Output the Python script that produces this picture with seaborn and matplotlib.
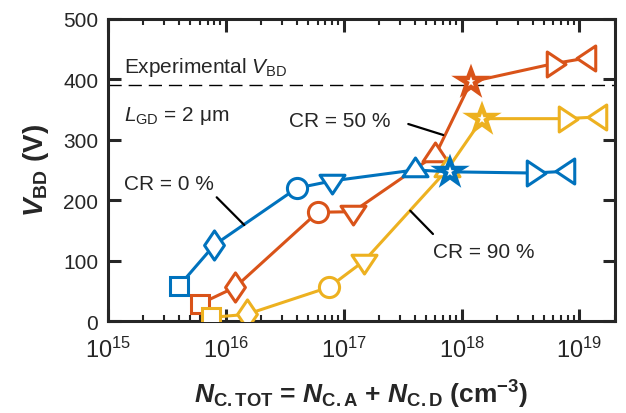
import matplotlib
matplotlib.use('Agg')
import matplotlib.pyplot as plt
from matplotlib.path import Path
from matplotlib.markers import MarkerStyle
from matplotlib.ticker import NullFormatter
import seaborn as sns

# Breakdown voltage vs total carbon concentration for three compensation ratios
n_cr0 = [4e15, 8e15, 4e16, 8e16, 4e17, 8e17, 4e18, 8e18]
v_cr0 = [58, 126, 220, 232, 250, 247, 245, 248]

n_cr50 = [6e15, 1.2e16, 6e16, 1.2e17, 6e17, 1.2e18, 6e18, 1.2e19]
v_cr50 = [28, 56, 180, 181, 275, 396, 426, 436]

n_cr90 = [7.5e15, 1.5e16, 7.5e16, 1.5e17, 7.5e17, 1.5e18, 7.5e18, 1.5e19]
v_cr90 = [6, 11, 56, 100, 250, 335, 335, 338]

v_experimental = 390
series_labels = ['CR = 0 %', 'CR = 50 %', 'CR = 90 %']
y_ticks = [0, 100, 200, 300, 400, 500]

blue = '#0072BD'
orange = '#D95319'
yellow = '#EDB120'

sns.set_style('ticks')
plt.rcParams['font.family'] = ['Liberation Sans', 'DejaVu Sans']
plt.rcParams['mathtext.fontset'] = 'custom'
plt.rcParams['mathtext.rm'] = 'Liberation Sans'
plt.rcParams['mathtext.it'] = 'Liberation Sans:italic'
plt.rcParams['mathtext.bf'] = 'Liberation Sans:bold'
plt.rcParams['mathtext.bfit'] = 'Liberation Sans:italic:bold'


def shape(verts):
    # closed polygon marker, centred on its centroid like MATLAB does
    return MarkerStyle(Path(verts + [verts[0]], closed=True), joinstyle='miter')


markers = [
    MarkerStyle('s', joinstyle='miter'),
    shape([(0, 1), (0.68, 0), (0, -1), (-0.68, 0)]),
    MarkerStyle('o'),
    shape([(-1, 0.5), (1, 0.5), (0, -1)]),
    shape([(-1, -0.5), (1, -0.5), (0, 1)]),
    MarkerStyle('*', joinstyle='miter'),
    shape([(-0.5, -1), (-0.5, 1), (1, 0)]),
    shape([(0.5, -1), (0.5, 1), (-1, 0)]),
]
marker_sizes = [12.5, 21, 14.5, 18, 18, 17.5, 18, 18]
edge_widths = [2.2, 2.2, 2.2, 2.2, 2.2, 3.2, 2.2, 2.2]

fig, ax = plt.subplots(figsize=(6.26, 4.14), dpi=100)
fig.subplots_adjust(left=0.1725, right=0.9824, bottom=0.2222, top=0.9517)
ax.set_xscale('log')

ax.axhline(v_experimental, color='black', lw=1, dashes=(9.5, 5), zorder=1)

series = [(n_cr50, v_cr50, orange, 2), (n_cr90, v_cr90, yellow, 3), (n_cr0, v_cr0, blue, 4)]
for n, v, col, z in series:
    sns.lineplot(x=n, y=v, ax=ax, color=col, lw=2.2, estimator=None, sort=False, zorder=z)
    for xi, yi, m, s, w in zip(n, v, markers, marker_sizes, edge_widths):
        ax.plot(xi, yi, ls='none', marker=m, ms=s, mfc='white', mec=col, mew=w, zorder=z)

ax.set_xlim(1e15, 2e19)
ax.set_ylim(0, 500)
ax.set_yticks(y_ticks)
ax.xaxis.set_minor_formatter(NullFormatter())

ax.tick_params(which='major', direction='in', length=9, width=2.2, top=True, right=True,
               labelsize=15, pad=7, color='#262626', labelcolor='#262626')
ax.tick_params(axis='x', which='major', labelsize=17, pad=11)
ax.tick_params(which='minor', direction='in', length=4.5, width=1.5, top=True, right=True,
               color='#262626')
for s in ax.spines.values():
    s.set_linewidth(2.2)
    s.set_color('#262626')

ax.set_xlabel(r'$\mathbfit{N}_{\mathbf{C.TOT}}$ = $\mathbfit{N}_{\mathbf{C.A}}$ + '
              r'$\mathbfit{N}_{\mathbf{C.D}}$ (cm$^{\mathbf{-3}}$)',
              fontsize=19, fontweight='bold', labelpad=12)
ax.set_ylabel(r'$\mathbfit{V}_{\mathbf{BD}}$ (V)', fontsize=20, fontweight='bold', labelpad=9)

# annotations
ax.text(0.031, 0.823, r'Experimental $V_{\mathrm{BD}}$', transform=ax.transAxes, fontsize=15)
ax.text(0.031, 0.664, r'$L_{\mathrm{GD}}$ = 2 μm', transform=ax.transAxes, fontsize=15)
ax.text(0.031, 0.437, series_labels[0], transform=ax.transAxes, fontsize=15)
ax.text(0.358, 0.647, series_labels[1], transform=ax.transAxes, fontsize=15)
ax.text(0.642, 0.211, series_labels[2], transform=ax.transAxes, fontsize=15)

ax.plot([0.2144, 0.2688], [0.4096, 0.3179], color='black', lw=1.6, transform=ax.transAxes, zorder=5)
ax.plot([0.5923, 0.6613], [0.6523, 0.6159], color='black', lw=1.6, transform=ax.transAxes, zorder=5)
ax.plot([0.5962, 0.6410], [0.3652, 0.2881], color='black', lw=1.6, transform=ax.transAxes, zorder=5)

fig.savefig('out.png', dpi=100)
